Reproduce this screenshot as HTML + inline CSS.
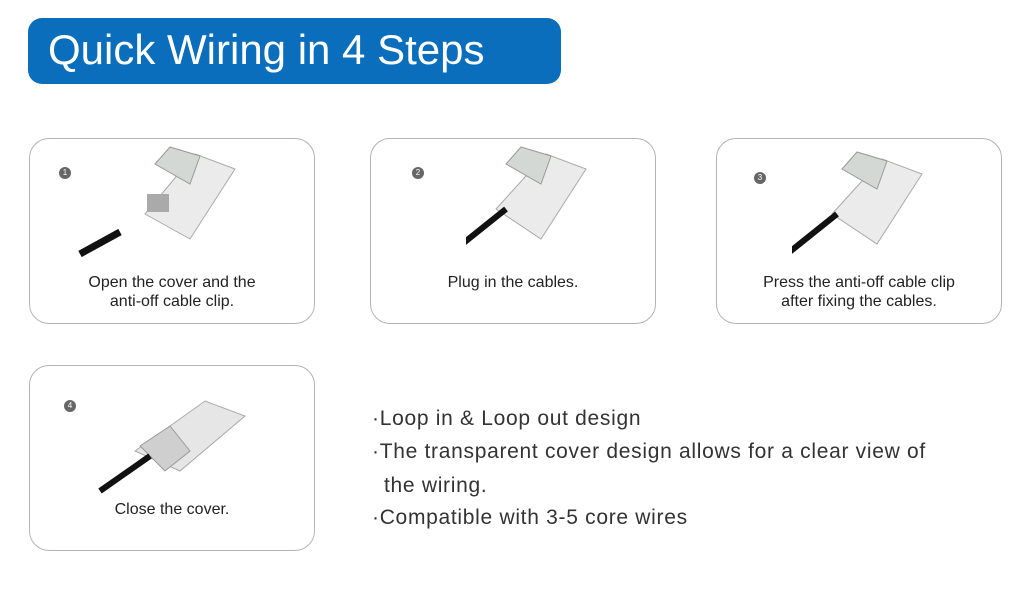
<!DOCTYPE html>
<html><head><style>
body{margin:0;width:1024px;height:593px;background:#fff;position:relative;font-family:"Liberation Sans",sans-serif;overflow:hidden}
.hdr{position:absolute;left:28px;top:18px;width:533px;height:66px;background:#0a6ebd;border-radius:14px;color:#fff;font-size:42px;line-height:64px;padding-left:20px;box-sizing:border-box}
.box{position:absolute;width:286px;height:186px;border:1.5px solid #b3b3b3;border-radius:20px;box-sizing:border-box}
.cap{position:absolute;left:0;right:0;text-align:center;font-size:16px;color:#222;line-height:19px}
.num{position:absolute;width:12px;height:12px;border-radius:50%;background:#666;color:#fff;font-size:8px;line-height:12px;text-align:center}
svg{position:absolute}
.txt{position:absolute;left:372px;font-size:21px;color:#333;letter-spacing:.7px}
</style></head><body>
<div class="hdr">Quick Wiring in 4 Steps</div>

<div class="box" style="left:29px;top:138px">
<div class="num" style="left:29px;top:28px">1</div>
<svg style="left:45px;top:5px" width="180" height="120" viewBox="0 0 180 120">
<polygon points="70,70 120,10 160,25 115,95" fill="#ebebeb" stroke="#aaa"/>
<polygon points="80,20 95,3 125,12 115,40" fill="#d4d8d4" stroke="#999"/>
<rect x="72" y="50" width="22" height="18" fill="#aaa"/>
<line x1="5" y1="110" x2="45" y2="88" stroke="#111" stroke-width="7"/>
</svg>
<div class="cap" style="top:134px">Open the cover and the<br>anti-off cable clip.</div>
</div>

<div class="box" style="left:370px;top:138px">
<div class="num" style="left:41px;top:28px">2</div>
<svg style="left:95px;top:5px" width="180" height="120" viewBox="0 0 180 120">
<polygon points="30,65 80,10 120,25 75,95" fill="#ebebeb" stroke="#aaa"/>
<polygon points="40,20 55,3 85,12 75,40" fill="#d4d8d4" stroke="#999"/>
<line x1="-10" y1="105" x2="40" y2="65" stroke="#111" stroke-width="6"/>
</svg>
<div class="cap" style="top:134px">Plug in the cables.</div>
</div>

<div class="box" style="left:716px;top:138px">
<div class="num" style="left:37px;top:33px">3</div>
<svg style="left:75px;top:10px" width="180" height="120" viewBox="0 0 180 120">
<polygon points="40,65 90,10 130,25 85,95" fill="#ebebeb" stroke="#aaa"/>
<polygon points="50,20 65,3 95,12 85,40" fill="#d4d8d4" stroke="#999"/>
<line x1="-5" y1="105" x2="45" y2="65" stroke="#111" stroke-width="6"/>
</svg>
<div class="cap" style="top:134px">Press the anti-off cable clip<br>after fixing the cables.</div>
</div>

<div class="box" style="left:29px;top:365px">
<div class="num" style="left:34px;top:34px">4</div>
<svg style="left:65px;top:30px" width="180" height="100" viewBox="0 0 180 100">
<polygon points="40,55 110,5 150,20 85,75" fill="#e6e6e6" stroke="#aaa"/>
<polygon points="45,50 75,30 95,55 70,75" fill="#cfcfcf" stroke="#999"/>
<line x1="5" y1="95" x2="55" y2="60" stroke="#111" stroke-width="6"/>
</svg>
<div class="cap" style="top:134px">Close the cover.</div>
</div>

<div class="txt" style="top:407px">·Loop in &amp; Loop out design</div>
<div class="txt" style="top:440px">·The transparent cover design allows for a clear view of</div>
<div class="txt" style="top:474px;left:384px">the wiring.</div>
<div class="txt" style="top:506px">·Compatible with 3-5 core wires</div>
</body></html>
